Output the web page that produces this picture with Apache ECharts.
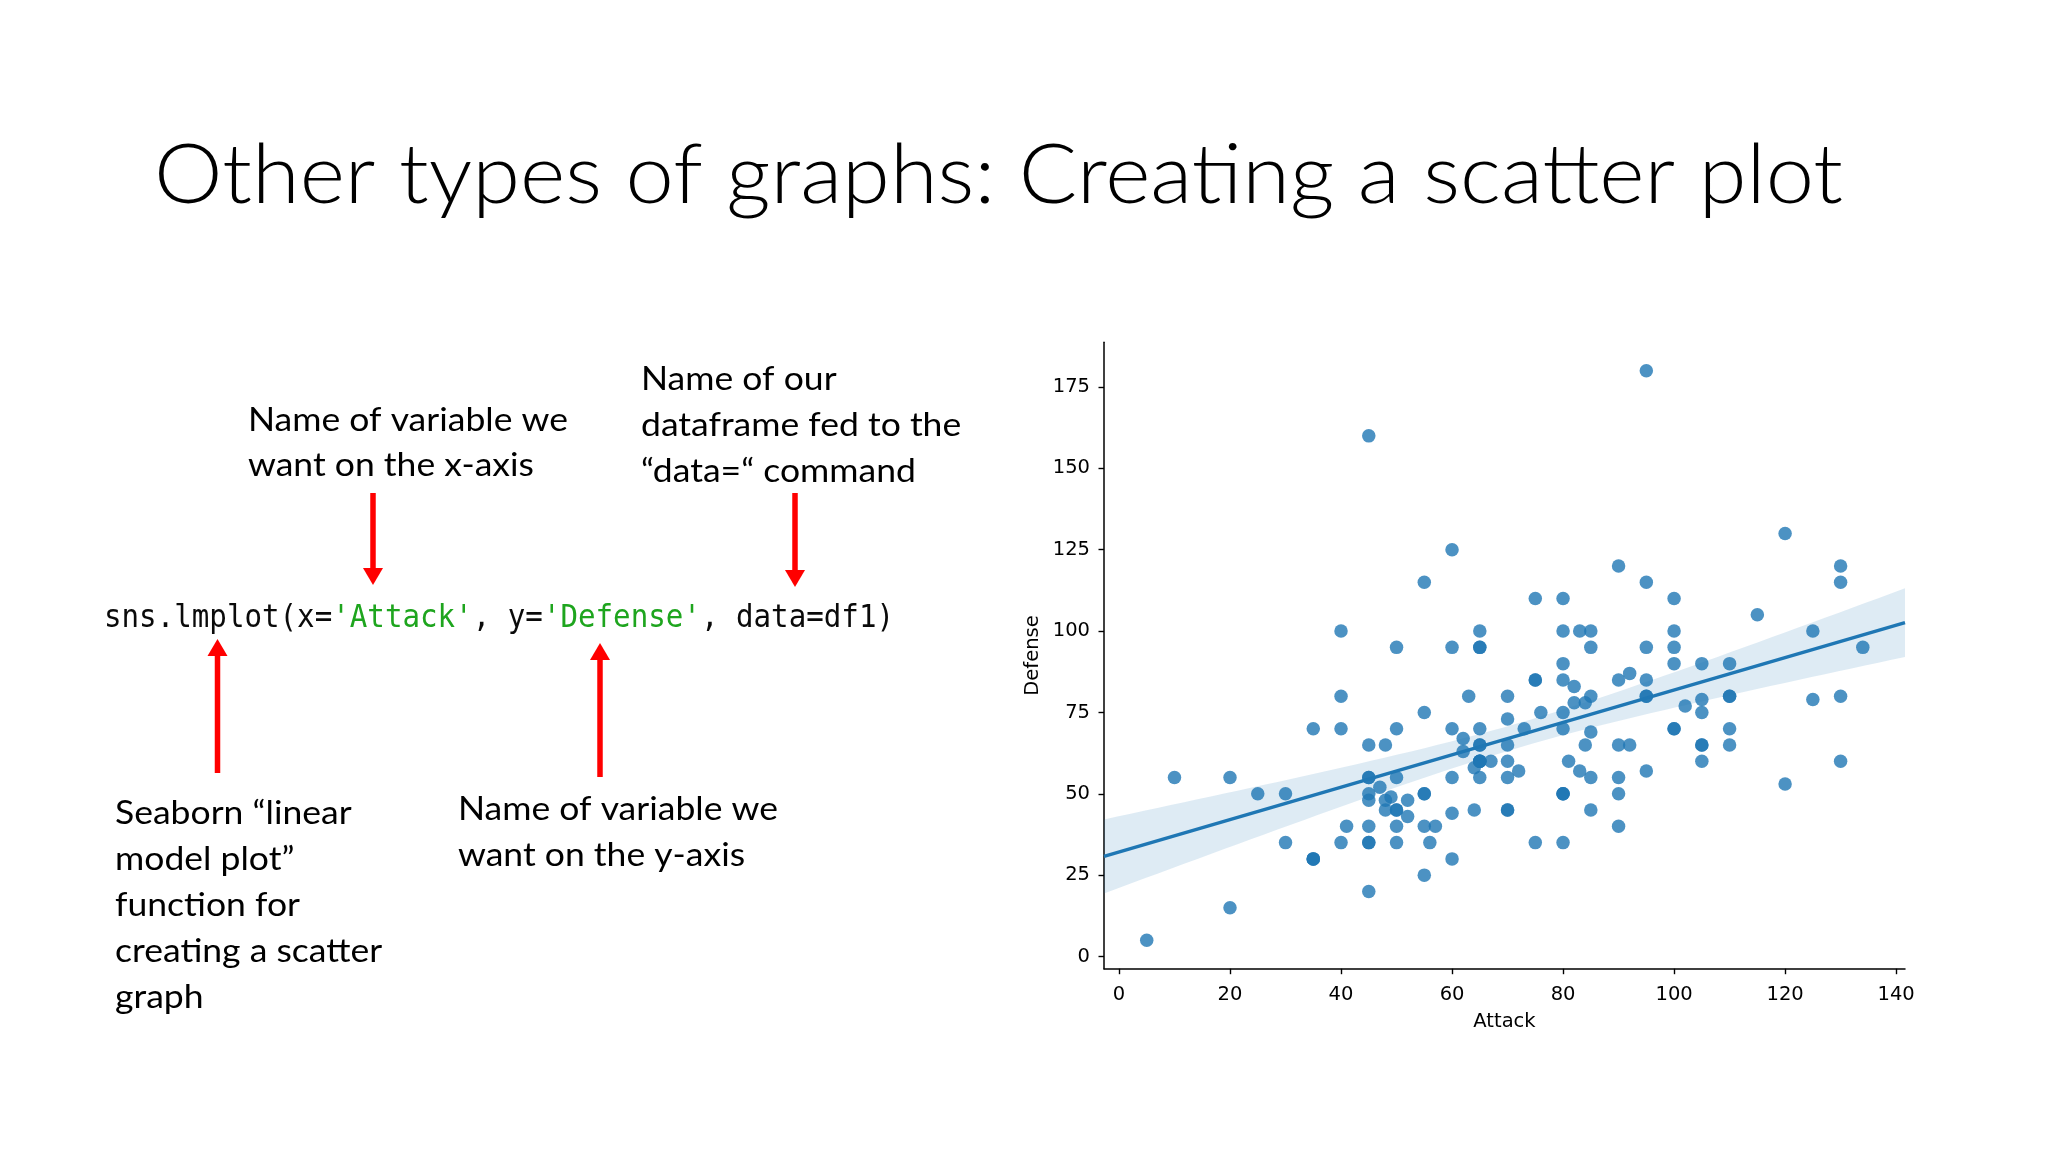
<!DOCTYPE html>
<html><head><meta charset="utf-8">
<script src="https://cdn.jsdelivr.net/npm/echarts@6/dist/echarts.min.js"></script>
<style>html,body{margin:0;padding:0;background:#fff}#c{width:2048px;height:1152px}</style>
</head><body><div id="c"></div>
<script>
// ---- data (Attack / Defense of each point) ----
const attack = [49,62,82,52,64,84,48,63,83,30,
 20,45,35,25,90,45,60,80,56,81,
 60,90,60,85,55,90,75,100,47,62,
 92,57,72,102,45,70,41,76,45,70,
 45,80,50,65,80,70,95,55,65,55,
 80,45,70,52,82,80,105,70,110,50,
 65,95,20,35,50,80,100,130,75,90,
 105,40,70,80,95,120,85,100,65,75,
 35,60,65,85,110,45,70,80,105,65,
 95,35,50,65,45,48,73,105,130,30,
 50,40,95,50,80,120,105,55,65,90,
 85,130,5,55,95,40,65,67,92,45,
 75,45,110,50,83,95,125,100,10,125,
 85,48,55,65,65,130,60,40,60,80,
 115,105,110,85,90,100,64,84,134,110,100];
const defense = [49,63,83,43,58,78,65,80,100,35,
 55,50,30,50,40,40,55,75,35,60,
 30,65,44,69,40,55,85,110,52,67,
 87,40,57,77,48,73,40,75,20,45,
 35,70,55,70,85,55,80,50,60,25,
 50,35,60,48,78,35,60,45,80,40,
 65,95,15,30,45,50,70,80,35,50,
 65,35,65,100,115,130,55,70,65,110,
 70,95,55,45,70,55,80,50,75,100,
 180,30,45,60,160,45,70,90,115,50,
 70,80,85,95,110,53,79,75,95,120,
 95,120,5,115,80,70,95,60,65,55,
 85,65,80,35,57,57,100,95,55,79,
 80,48,50,60,60,60,70,100,125,90,
 105,65,65,100,85,90,45,65,95,90,100];
const xTicks = [0,20,40,60,80,100,120,140];
const yTicks = [0,25,50,75,100,125,150,175];
const xName = 'Attack';
const yName = 'Defense';
const titleText = 'Other types of graphs: Creating a scatter plot';
const noteX = ['Name of variable we', 'want on the x-axis'];
const noteDf = ['Name of our', 'dataframe fed to the', '\u201Cdata=\u201C command'];
const noteFn = ['Seaborn \u201Clinear', 'model plot\u201D', 'function for', 'creating a scatter', 'graph'];
const noteY = ['Name of variable we', 'want on the y-axis'];
const codeParts = [['k','sns.lmplot(x='],['g',"'Attack'"],['k',', y='],['g',"'Defense'"],['k',', data=df1)']];

// ---- axis limits ----
const xMin = -2.7, xMax = 141.6, yMin = -3.75, yMax = 188.75;

// ---- linear fit (least squares) and 95% confidence band from the data ----
const n = attack.length;
const mx = attack.reduce((s,v)=>s+v,0)/n;
const my = defense.reduce((s,v)=>s+v,0)/n;
let sxx = 0, sxy = 0;
for (let i=0;i<n;i++){ sxx += (attack[i]-mx)**2; sxy += (attack[i]-mx)*(defense[i]-my); }
const slope = sxy/sxx, icpt = my - slope*mx;
let sse = 0;
for (let i=0;i<n;i++){ sse += (defense[i]-(icpt+slope*attack[i]))**2; }
const sres = Math.sqrt(sse/(n-2));
const tval = 1.976;
const bandData = [];
const NB = 60;
for (let k=0;k<=NB;k++){
  const x = xMin + (xMax-xMin)*k/NB;
  const yh = icpt + slope*x;
  const h = tval*sres*Math.sqrt(1/n + (x-mx)**2/sxx);
  bandData.push([x, yh-h, yh+h]);
}
const fitLine = [[xMin, icpt+slope*xMin],[xMax, icpt+slope*xMax]];
const points = attack.map((a,i)=>[a, defense[i]]);

// ---- text helpers ----
const mctx = document.createElement('canvas').getContext('2d');
function measure(str, font){ mctx.font = font; return mctx.measureText(str).width; }

const titleFont = '300 83px Lato';
const titleScale = 1689 / measure(titleText, titleFont);
const bodySize = 33.5;
const bodyFont = bodySize + 'px Lato';
const bodyScale = 320 / measure('Name of variable we', bodyFont);
const codeSize = 29;
const codeFont = codeSize + 'px "DejaVu Sans Mono"';
const codeScale = 790 / measure(codeParts.map(p=>p[1]).join(''), codeFont);

function txt(x, base, str, size, font, sx, sy){
  return {type:'text', x:x, y:base, scaleX:sx, scaleY:sy||1, silent:true,
    style:{text:str, x:0, y:-0.33*size, font:font, fill:'#000', align:'left', verticalAlign:'middle'}};
}
function block(x, base0, lines, gap){
  return lines.map((s,i)=>txt(x, base0+i*gap, s, bodySize, bodyFont, bodyScale));
}
function arrow(x, y0, tip){
  const dir = tip > y0 ? 1 : -1;
  const hh = 17, hw = 10, sw = 5.5;
  const shaftEnd = tip - dir*hh;
  return [
    {type:'rect', silent:true, shape:{x:x-sw/2, y:Math.min(y0,shaftEnd), width:sw, height:Math.abs(shaftEnd-y0)}, style:{fill:'#ff0000'}},
    {type:'polygon', silent:true, shape:{points:[[x-hw,shaftEnd],[x+hw,shaftEnd],[x,tip]]}, style:{fill:'#ff0000'}}
  ];
}

const codeRich = codeParts.map(p=>'{'+p[0]+'|'+p[1].replace(/\|/g,'')+'}').join('');
const graphics = [
  txt(154, 204, titleText, 83, titleFont, titleScale),
  ...block(248, 431, noteX, 45.5),
  ...block(641, 390.5, noteDf, 45.7),
  ...block(115, 824, noteFn, 46),
  ...block(458, 820, noteY, 46),
  {type:'text', x:104, y:630, scaleX:codeScale, scaleY:1.09, silent:true,
    style:{text:codeRich, x:0, y:-0.36*codeSize, font:codeFont, align:'left', verticalAlign:'middle',
      rich:{k:{fill:'#0a0a0a', font:codeFont}, g:{fill:'#1ea51e', font:codeFont}}}},
  ...arrow(373, 493, 585),
  ...arrow(795, 493, 587),
  ...arrow(217.5, 773, 639),
  ...arrow(600, 777, 643)
];

const axisFont = {fontFamily:'DejaVu Sans', fontSize:19.5, color:'#000'};
const chart = echarts.init(document.getElementById('c'), null, {renderer:'canvas'});
chart.setOption({
  animation:false,
  backgroundColor:'#fff',
  graphic: graphics,
  grid:{left:1104, top:342.3, width:801, height:626.4, containLabel:false},
  xAxis:{type:'value', min:xMin, max:xMax, name:xName, nameLocation:'middle', nameGap:43,
    nameTextStyle:axisFont,
    axisLine:{show:true, onZero:false, lineStyle:{color:'#000', width:1.5}},
    axisTick:{show:true, length:5.5, lineStyle:{color:'#000', width:1.4}, customValues:xTicks},
    axisLabel:Object.assign({margin:16.5, customValues:xTicks}, axisFont),
    splitLine:{show:false}},
  yAxis:{type:'value', min:yMin, max:yMax, name:yName, nameLocation:'middle', nameGap:61, nameRotate:90,
    nameTextStyle:axisFont,
    axisLine:{show:true, onZero:false, lineStyle:{color:'#000', width:1.5}},
    axisTick:{show:true, length:5.5, lineStyle:{color:'#000', width:1.4}, customValues:yTicks},
    axisLabel:Object.assign({margin:14, padding:[5,0,0,0], customValues:yTicks}, axisFont),
    splitLine:{show:false}},
  series:[
    {type:'scatter', data:points, symbol:'circle', symbolSize:13.5, z:2,
      itemStyle:{color:'#1f77b4', opacity:0.8}},
    {type:'custom', data:bandData, z:3, silent:true, clip:true,
      encode:{x:0, y:[1,2]},
      renderItem:function(params, api){
        if (params.dataIndex !== 0) return null;
        const up = bandData.map(d=>api.coord([d[0], d[2]]));
        const lo = bandData.slice().reverse().map(d=>api.coord([d[0], d[1]]));
        return {type:'polygon', shape:{points:up.concat(lo)}, style:{fill:'rgba(31,119,180,0.15)'}};
      }},
    {type:'line', data:fitLine, symbol:'none', z:4, silent:true,
      lineStyle:{color:'#1f77b4', width:3.5}}
  ]
});
</script></body></html>
